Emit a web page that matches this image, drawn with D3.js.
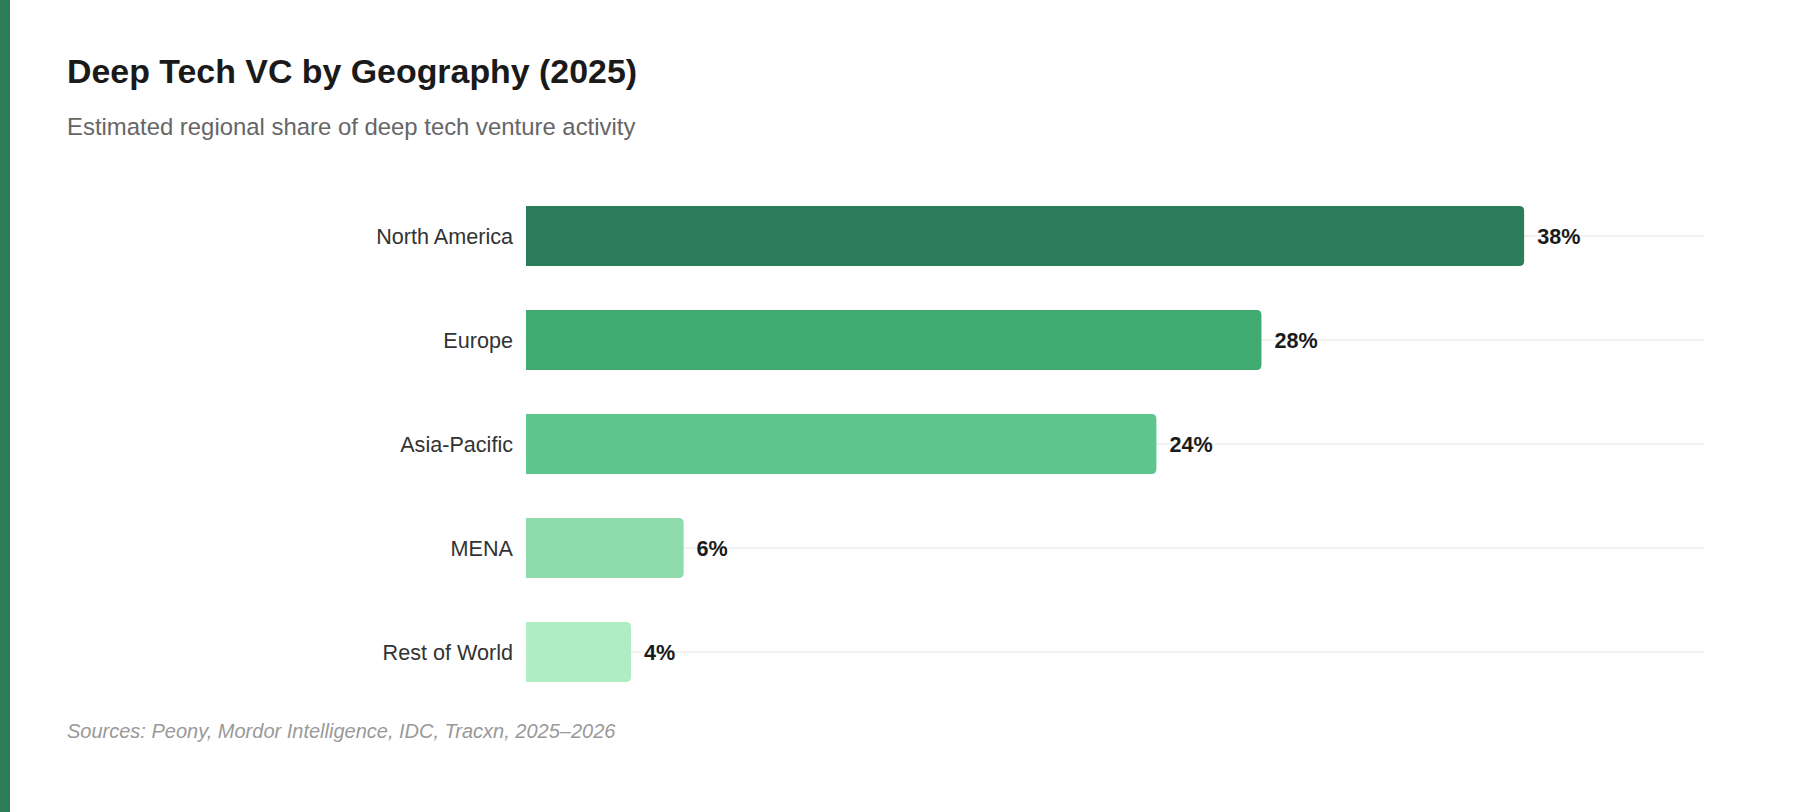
<!DOCTYPE html>
<html>
<head>
<meta charset="utf-8">
<script src="https://cdn.jsdelivr.net/npm/d3@7"></script>
<style>
    body { margin: 0; background: #fff; }
    svg { display: block; font-family: "Liberation Sans", Arial, Helvetica, sans-serif; }
</style>
</head>
<body>
<div id="chart"></div>
<script>

// DATA

const regions = ['North America', 'Europe', 'Asia-Pacific', 'MENA', 'Rest of World'];
const shares = [38, 28, 24, 6, 4];
const colors = ['#2d7d5a', '#40aa70', '#5ec68a', '#8edcab', '#b0edc5'];
const xMax = 45;

const title = 'Deep Tech VC by Geography (2025)';
const subtitle = 'Estimated regional share of deep tech venture activity';
const source = 'Sources: Peony, Mordor Intelligence, IDC, Tracxn, 2025\u20132026';

drawBars();

function drawBars() {

    const width = 1800;
    const height = 812;
    const margin = {top: 206, right: 92, bottom: 130, left: 526};

    const svg = d3.select('#chart')
        .append('svg')
            .attr('width', width)
            .attr('height', height)
            .attr('viewBox', [0, 0, width, height]);

    // left accent stripe
    svg.append('rect')
        .attr('x', 0)
        .attr('y', 0)
        .attr('width', 10)
        .attr('height', height)
        .attr('fill', '#2d7d5a');

    svg.append('text')
        .attr('x', 67)
        .attr('y', 83)
        .attr('font-size', 33.9)
        .attr('font-weight', 700)
        .attr('fill', '#1a1a1a')
        .text(title);

    svg.append('text')
        .attr('x', 67)
        .attr('y', 135)
        .attr('font-size', 23.9)
        .attr('fill', '#666')
        .text(subtitle);

    const x = d3.scaleLinear()
        .domain([0, xMax])
        .range([margin.left, width - margin.right]);
    const y = d3.scaleBand()
        .domain(regions)
        .range([margin.top, height - margin.bottom])
        .paddingInner(0.423);

    const rows = svg.append('g')
        .selectAll('g')
        .data(regions)
        .join('g');

    // track lines
    rows.append('line')
        .attr('x1', x(0))
        .attr('x2', width - 96)
        .attr('y1', d => y(d) + y.bandwidth() / 2)
        .attr('y2', d => y(d) + y.bandwidth() / 2)
        .attr('stroke', '#f2f2ee')
        .attr('stroke-width', 2);

    // bars, rounded on the right end only
    const r = 5;
    rows.append('path')
        .attr('fill', (d, i) => colors[i])
        .attr('d', (d, i) => {
            const x0 = x(0), x1 = x(shares[i]);
            const y0 = y(d), y1 = y(d) + y.bandwidth();
            return `M${x0},${y0}H${x1 - r}Q${x1},${y0} ${x1},${y0 + r}` +
                `V${y1 - r}Q${x1},${y1} ${x1 - r},${y1}H${x0}Z`;
        });

    rows.append('text')
        .attr('x', x(0) - 13)
        .attr('y', d => y(d) + y.bandwidth() / 2)
        .attr('dy', '0.35em')
        .attr('text-anchor', 'end')
        .attr('font-size', 21.6)
        .attr('fill', '#333')
        .text(d => d);

    rows.append('text')
        .attr('x', (d, i) => x(shares[i]) + 13)
        .attr('y', d => y(d) + y.bandwidth() / 2)
        .attr('dy', '0.35em')
        .attr('font-size', 21.6)
        .attr('font-weight', 700)
        .attr('fill', '#1a1a1a')
        .text((d, i) => `${shares[i]}%`);

    svg.append('text')
        .attr('x', 67)
        .attr('y', 738)
        .attr('font-size', 20)
        .attr('font-style', 'italic')
        .attr('fill', '#999')
        .text(source);

}
</script>
</body>
</html>
